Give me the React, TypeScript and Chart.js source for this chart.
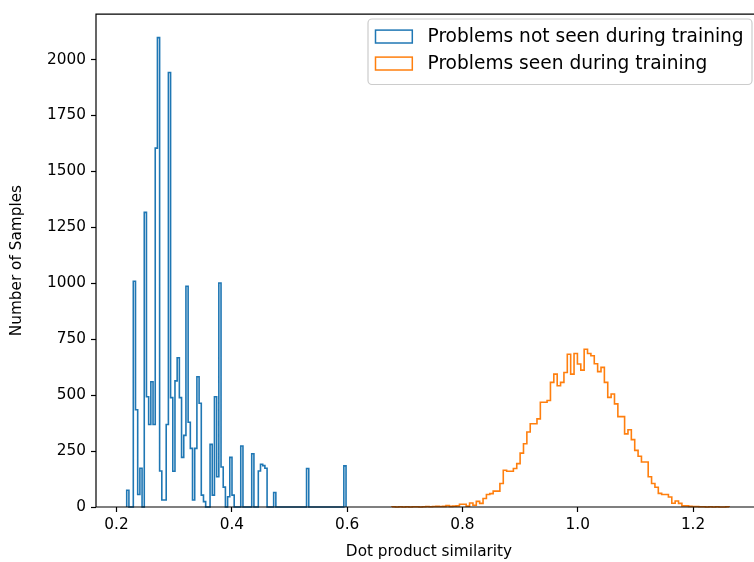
import React, { useEffect, useRef } from "react";
import { Chart, registerables } from "chart.js";

Chart.register(...registerables);

// ---- data -------------------------------------------------------------
const seriesLabels = ["Problems not seen during training", "Problems seen during training"];
const seriesColors = ["#1f77b4", "#ff7f0e"];

// histogram of problems NOT seen during training (100 bins)
const unseenBinStart = 0.21769;
const unseenBinWidth = 0.003804;
const unseenCounts = [
  75, 0, 0, 1009, 435, 56, 173, 0, 1317, 493,
  369, 560, 369, 1604, 2098, 161, 31, 31, 369, 1942,
  489, 160, 564, 667, 489, 222, 320, 987, 379, 262,
  31, 262, 582, 464, 53, 24, 0, 0, 280, 53,
  493, 135, 1001, 179, 89, 0, 46, 222, 53, 0,
  0, 0, 273, 0, 0, 0, 0, 238, 0, 0,
  161, 191, 185, 173, 0, 0, 0, 65, 0, 0,
  0, 0, 0, 0, 0, 0, 0, 0, 0, 0,
  0, 0, 172, 0, 0, 0, 0, 0, 0, 0,
  0, 0, 0, 0, 0, 0, 0, 0, 0, 184,
];

// histogram of problems seen during training (100 bins)
const seenBinStart = 0.6779;
const seenBinWidth = 0.005846;
const seenCounts = [
  1, 0, 1, 0, 1, 0, 1, 1, 0, 1,
  2, 1, 2, 3, 2, 3, 6, 3, 4, 5,
  12, 12, 4, 18, 8, 25, 16, 38, 56, 60,
  71, 71, 105, 164, 160, 160, 172, 194, 241, 283,
  335, 372, 372, 394, 468, 468, 476, 557, 594, 542,
  557, 601, 683, 594, 686, 639, 612, 705, 686, 676,
  640, 605, 624, 557, 490, 505, 461, 404, 404, 327,
  345, 301, 253, 227, 201, 201, 135, 105, 88, 61,
  56, 56, 45, 17, 27, 16, 5, 5, 3, 2,
  2, 1, 1, 0, 1, 0, 1, 0, 0, 1,
];

const xTicks = [0.2, 0.4, 0.6, 0.8, 1.0, 1.2];
const yTicks = [0, 250, 500, 750, 1000, 1250, 1500, 1750, 2000];
const xAxisTitle = "Dot product similarity";
const yAxisTitle = "Number of Samples";
const xMin = 0.1644;
const xMax = 1.3196;

// ---- helpers ----------------------------------------------------------
function stepPoints(start: number, width: number, counts: number[]) {
  const pts: { x: number; y: number }[] = [{ x: start, y: 0 }];
  counts.forEach((c, i) => pts.push({ x: start + i * width, y: c }));
  pts.push({ x: start + counts.length * width, y: 0 });
  return pts;
}

const FONT = "'DejaVu Sans', 'Liberation Sans', sans-serif";
const TICK_FS = 15.3;
const LEGEND_FS = 18.6;

const spinePlugin = {
  id: "spines",
  afterDatasetsDraw(chart: any) {
    const { ctx, chartArea } = chart;
    const { left, right, top, bottom } = chartArea;
    ctx.save();
    ctx.strokeStyle = "#000";
    ctx.lineWidth = 1.2;
    ctx.lineCap = "square";
    ctx.beginPath();
    ctx.moveTo(left, bottom);
    ctx.lineTo(left, top);
    ctx.lineTo(right, top);
    ctx.lineTo(right, bottom);
    ctx.lineTo(left, bottom);
    ctx.stroke();
    ctx.restore();
  },
};

const legendPlugin = {
  id: "mplLegend",
  afterDraw(chart: any) {
    const { ctx } = chart;
    const ds = chart.data.datasets;
    const x0 = 368, y0 = 19, x1 = 752, y1 = 84.5, r = 4;
    ctx.save();
    ctx.beginPath();
    ctx.moveTo(x0 + r, y0);
    ctx.lineTo(x1 - r, y0);
    ctx.arcTo(x1, y0, x1, y0 + r, r);
    ctx.lineTo(x1, y1 - r);
    ctx.arcTo(x1, y1, x1 - r, y1, r);
    ctx.lineTo(x0 + r, y1);
    ctx.arcTo(x0, y1, x0, y1 - r, r);
    ctx.lineTo(x0, y0 + r);
    ctx.arcTo(x0, y0, x0 + r, y0, r);
    ctx.closePath();
    ctx.fillStyle = "rgba(255,255,255,0.8)";
    ctx.fill();
    ctx.strokeStyle = "#cccccc";
    ctx.lineWidth = 1.2;
    ctx.stroke();

    const rows = [36.5, 63.5];
    ds.forEach((d: any, i: number) => {
      const cy = rows[i];
      ctx.strokeStyle = d.borderColor;
      ctx.lineWidth = 1.5;
      ctx.strokeRect(375.5, cy - 6.4, 36.8, 12.9);
      ctx.fillStyle = "#000";
      ctx.font = `${LEGEND_FS}px ${FONT}`;
      ctx.textBaseline = "middle";
      ctx.textAlign = "left";
      ctx.fillText(d.label, 427.5, cy + 0.5);
    });
    ctx.restore();
  },
};

export default function App() {
  const canvasRef = useRef<HTMLCanvasElement | null>(null);

  useEffect(() => {
    const canvas = canvasRef.current;
    if (!canvas) return;
    const yMax = 1.05 * Math.max(...unseenCounts, ...seenCounts);

    const chart = new Chart(canvas, {
      type: "line",
      data: {
        datasets: [
          {
            label: seriesLabels[0],
            data: stepPoints(unseenBinStart, unseenBinWidth, unseenCounts),
            borderColor: seriesColors[0],
            backgroundColor: "transparent",
            borderWidth: 1.6,
            pointRadius: 0,
            stepped: "before",
            fill: false,
            clip: false as any,
            borderJoinStyle: "miter",
          },
          {
            label: seriesLabels[1],
            data: stepPoints(seenBinStart, seenBinWidth, seenCounts),
            borderColor: seriesColors[1],
            backgroundColor: "transparent",
            borderWidth: 1.6,
            pointRadius: 0,
            stepped: "before",
            fill: false,
            clip: false as any,
            borderJoinStyle: "miter",
          },
        ],
      },
      options: {
        animation: false,
        responsive: false,
        events: [],
        layout: { padding: { top: 11.3, right: 8, left: 0, bottom: 0 } },
        plugins: {
          legend: { display: false },
          tooltip: { enabled: false },
        },
        scales: {
          x: {
            type: "linear",
            min: xMin,
            max: xMax,
            afterBuildTicks: (scale: any) => {
              scale.ticks = xTicks.map((v) => ({ value: v }));
            },
            afterFit: (scale: any) => {
              scale.height = 55;
            },
            ticks: {
              autoSkip: false,
              maxRotation: 0,
              minRotation: 0,
              padding: 4,
              color: "#000",
              font: { family: FONT, size: TICK_FS },
              callback: (v: any) => Number(v).toFixed(1),
            },
            grid: {
              display: true,
              drawOnChartArea: false,
              drawTicks: true,
              tickLength: 5,
              tickWidth: 1.2,
              tickColor: "#000",
            },
            border: { display: false },
            title: {
              display: true,
              text: xAxisTitle,
              color: "#000",
              font: { family: FONT, size: TICK_FS },
              padding: { top: 0, bottom: 0.5 },
            },
          },
          y: {
            type: "linear",
            min: 0,
            max: yMax,
            afterBuildTicks: (scale: any) => {
              scale.ticks = yTicks.map((v) => ({ value: v }));
            },
            afterFit: (scale: any) => {
              scale.width = 96;
            },
            ticks: {
              padding: 5,
              color: "#000",
              font: { family: FONT, size: TICK_FS },
              callback: (v: any) => String(v),
            },
            grid: {
              display: true,
              drawOnChartArea: false,
              drawTicks: true,
              tickLength: 5,
              tickWidth: 1.2,
              tickColor: "#000",
            },
            border: { display: false },
            title: {
              display: true,
              text: yAxisTitle,
              color: "#000",
              font: { family: FONT, size: TICK_FS },
              padding: { top: 8, bottom: 0 },
            },
          },
        },
      } as any,
      plugins: [spinePlugin, legendPlugin],
    });

    return () => chart.destroy();
  }, []);

  return (
    <div
      style={{
        position: "fixed",
        left: 0,
        top: 0,
        width: 754,
        height: 562,
        overflow: "hidden",
        background: "#fff",
      }}
    >
      <canvas ref={canvasRef} width={770} height={562} style={{ display: "block" }} />
    </div>
  );
}
